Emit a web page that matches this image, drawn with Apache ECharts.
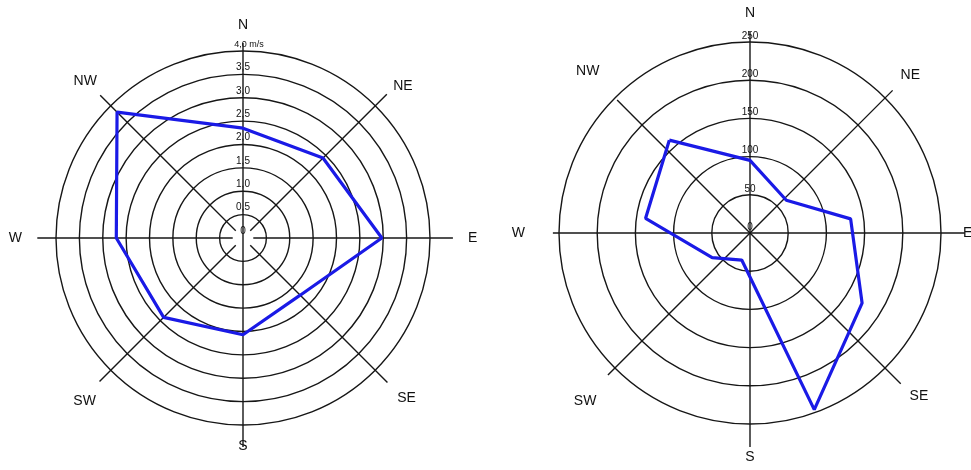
<!DOCTYPE html>
<html>
<head>
<meta charset="utf-8">
<script src="https://cdn.jsdelivr.net/npm/echarts@6/dist/echarts.min.js"></script>
<style>
html, body { margin: 0; padding: 0; background: #fff; }
#chart { width: 971px; height: 470px; }
</style>
</head>
<body>
<div id="chart"></div>
<script>
// compass directions, clockwise from north
var directions = ['N', 'NE', 'E', 'SE', 'S', 'SW', 'W', 'NW'];
var directionAngles = [0, 45, 90, 135, 180, 225, 270, 315];

// left rose: mean wind speed (m/s)
var speedAngles = [0, 45, 90, 135, 180, 225, 270, 315];
var speedValues = [2.35, 2.42, 2.97, 1.73, 2.07, 2.40, 2.71, 3.81];
var speedTicks = ['0', '0,5', '1,0', '1,5', '2,0', '2,5', '3,0', '3,5', '4,0 m/s'];

// right rose: number of cases
var countAngles = [319, 0, 48, 82, 122, 160, 197, 237, 278];
var countValues = [161, 95, 64, 133, 173, 246, 37, 59, 138];
var countTicks = ['0', '50', '100', '150', '200', '250'];

// how far the compass lines reach (axis units), inner/outer
var leftSpokes = [[0, 4.17], [0.22, 4.35], [0.22, 4.49], [0.22, 4.37], [0, 4.47], [0.22, 4.34], [0.22, 4.40], [0.22, 4.32]];
var rightSpokes = [[0, 263], [0, 264], [0, 281], [0, 279], [0, 280], [0, 263], [0, 258], [0, 246]];

var FONT = 'Liberation Sans, Arial, sans-serif';
var LINE = '#161616';
var BLUE = '#1a1ae6';

// extra room so the compass lines can run past the outer ring
var SPOKE_SCALE = 1.15;
var LEFT = { center: [243, 238], radius: 187, max: 4 };
var RIGHT = { center: [750, 233], radius: 191, max: 250 };

// nudges of the compass labels [top, right, bottom, left]
var leftPads = { N: [0, 0, 5, 0], NE: [0, 0, 3, 8], E: [0, 0, 0, 24], SE: [11, 0, 0, 12], S: [0, 0, 0, 0], SW: [14, 5, 0, 0], W: [0, 20, 0, 0], NW: [0, 4, 8, 0] };
var rightPads = { N: [0, 0, 0, 0], NE: [0, 0, 0, 0], E: [0, 0, 0, 0], SE: [6, 0, 0, 9], S: [4, 0, 0, 0], SW: [11, 3, 0, 0], W: [0, 12, 0, 0], NW: [0, 0, 4, 0] };

var myChart = echarts.init(document.getElementById('chart'));

function loop(angles, values) {
  var d = [];
  for (var i = 0; i < angles.length; i++) d.push([values[i], angles[i]]);
  d.push([values[0], angles[0]]);
  return d;
}

function spokeSeries(spokes, polarIndex) {
  return spokes.map(function (s, i) {
    return {
      type: 'line',
      coordinateSystem: 'polar',
      polarIndex: polarIndex,
      data: [[s[0], directionAngles[i]], [s[1], directionAngles[i]]],
      symbol: 'none',
      clip: false,
      silent: true,
      z: 1,
      lineStyle: { color: LINE, width: 1.4 }
    };
  });
}

function compassAxis(polarIndex, margin, pads) {
  var rich = {};
  directions.forEach(function (d) {
    rich[d] = { padding: pads[d], fontFamily: FONT, fontSize: 14, color: '#111' };
  });
  return {
    polarIndex: polarIndex,
    type: 'value',
    min: 0,
    max: 360,
    interval: 45,
    startAngle: 90,
    clockwise: true,
    axisLine: { show: false },
    axisTick: { show: false },
    splitLine: { show: false },
    axisLabel: {
      margin: margin,
      color: '#111',
      fontFamily: FONT,
      fontSize: 14,
      formatter: function (v) {
        var name = directions[Math.round(v / 45) % 8];
        return '{' + name + '|' + name + '}';
      },
      rich: rich
    }
  };
}

function hiddenAngle(polarIndex) {
  return { polarIndex: polarIndex, type: 'value', min: 0, max: 360, startAngle: 90, clockwise: true, show: false };
}

var option = {
  backgroundColor: '#fff',
  animation: false,
  polar: [
    { center: LEFT.center, radius: LEFT.radius },
    { center: RIGHT.center, radius: RIGHT.radius },
    { center: LEFT.center, radius: LEFT.radius * SPOKE_SCALE },
    { center: RIGHT.center, radius: RIGHT.radius * SPOKE_SCALE }
  ],
  angleAxis: [
    compassAxis(0, 14, leftPads),
    compassAxis(1, 22, rightPads),
    hiddenAngle(2),
    hiddenAngle(3)
  ],
  radiusAxis: [
    {
      polarIndex: 0,
      min: 0,
      max: LEFT.max,
      interval: 0.5,
      axisLine: { show: false },
      axisTick: { show: false },
      splitLine: { lineStyle: { color: LINE, width: 1.4 } },
      axisLabel: {
        margin: 0,
        align: 'center',
        verticalAlign: 'bottom',
        padding: [0, 0, 2, 0],
        color: '#111',
        fontFamily: FONT,
        fontSize: 10,
        formatter: function (v) {
          var t = speedTicks[Math.round(v / 0.5)];
          return v === 4 ? '{u|' + t + '}' : t;
        },
        rich: { u: { padding: [0, 0, 0, 12], fontFamily: FONT, fontSize: 9, color: '#111' } }
      },
      z: 3
    },
    {
      polarIndex: 1,
      min: 0,
      max: RIGHT.max,
      interval: 50,
      axisLine: { show: false },
      axisTick: { show: false },
      splitLine: { lineStyle: { color: LINE, width: 1.4 } },
      axisLabel: {
        margin: 0,
        align: 'center',
        verticalAlign: 'bottom',
        padding: [0, 0, 1, 0],
        color: '#111',
        fontFamily: FONT,
        fontSize: 10,
        formatter: function (v) {
          return countTicks[Math.round(v / 50)];
        }
      },
      z: 3
    },
    { polarIndex: 2, min: 0, max: LEFT.max * SPOKE_SCALE, show: false },
    { polarIndex: 3, min: 0, max: RIGHT.max * SPOKE_SCALE, show: false }
  ],
  series: spokeSeries(leftSpokes, 2).concat(spokeSeries(rightSpokes, 3)).concat([
    {
      name: 'speed',
      type: 'line',
      coordinateSystem: 'polar',
      polarIndex: 0,
      data: loop(speedAngles, speedValues),
      symbol: 'none',
      clip: false,
      z: 5,
      lineStyle: { color: BLUE, width: 3.2 }
    },
    {
      name: 'count',
      type: 'line',
      coordinateSystem: 'polar',
      polarIndex: 1,
      data: loop(countAngles, countValues),
      symbol: 'none',
      clip: false,
      z: 5,
      lineStyle: { color: BLUE, width: 3.2 }
    }
  ])
};

myChart.setOption(option);
</script>
</body>
</html>
